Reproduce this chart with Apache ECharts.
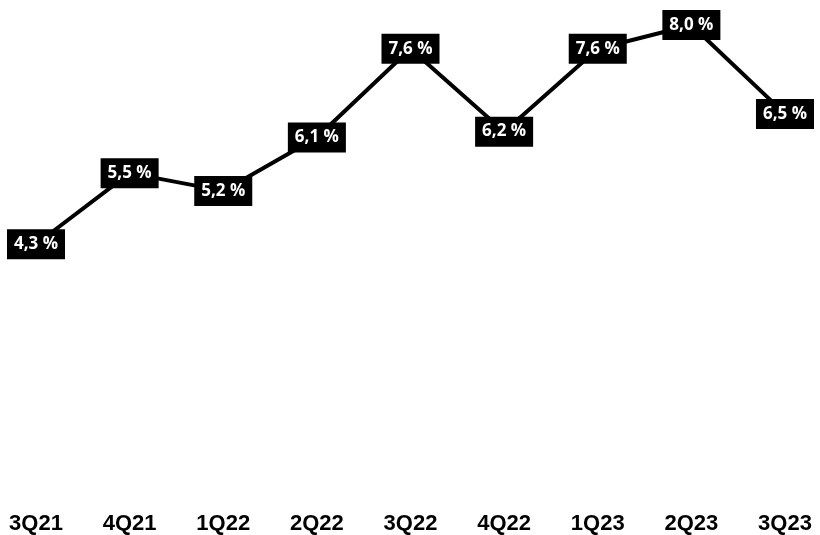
<!DOCTYPE html>
<html><head><meta charset="utf-8">
<script src="https://cdn.jsdelivr.net/npm/echarts@6/dist/echarts.min.js"></script>
<style>html,body{margin:0;padding:0;background:#fff}#c{width:820px;height:535px}</style>
</head><body><div id="c"></div>
<script>
const categories = ['3Q21','4Q21','1Q22','2Q22','3Q22','4Q22','1Q23','2Q23','3Q23'];
const values = [4.3, 5.5, 5.2, 6.1, 7.6, 6.2, 7.6, 8.0, 6.5];
const chart = echarts.init(document.getElementById('c'));
chart.setOption({
  animation: false,
  grid: {left: 36, right: 35, top: 25, bottom: 34, containLabel: false},
  xAxis: {
    type: 'category', data: categories, boundaryGap: false,
    axisLine: {show: false}, axisTick: {show: false}, splitLine: {show: false},
    axisLabel: {color: '#000', fontFamily: 'Liberation Sans, Arial', fontWeight: 'bold', fontSize: 22, margin: 14}
  },
  yAxis: {type: 'value', min: 0, max: 8, show: false},
  series: [{
    type: 'line', data: values, symbol: 'circle', symbolSize: 2, showSymbol: true,
    itemStyle: {color: '#000'},
    lineStyle: {color: '#000', width: 4},
    label: {
      show: true, position: 'inside', distance: 0, color: '#fff', backgroundColor: '#000',
      fontFamily: 'Open Sans, Noto Sans', fontWeight: 'bold', fontSize: 17,
      padding: [7, 7, 6, 7],
      formatter: p => p.value.toFixed(1).replace('.', ',') + ' %'
    },
    labelLayout: {hideOverlap: false}
  }]
});
</script></body></html>
